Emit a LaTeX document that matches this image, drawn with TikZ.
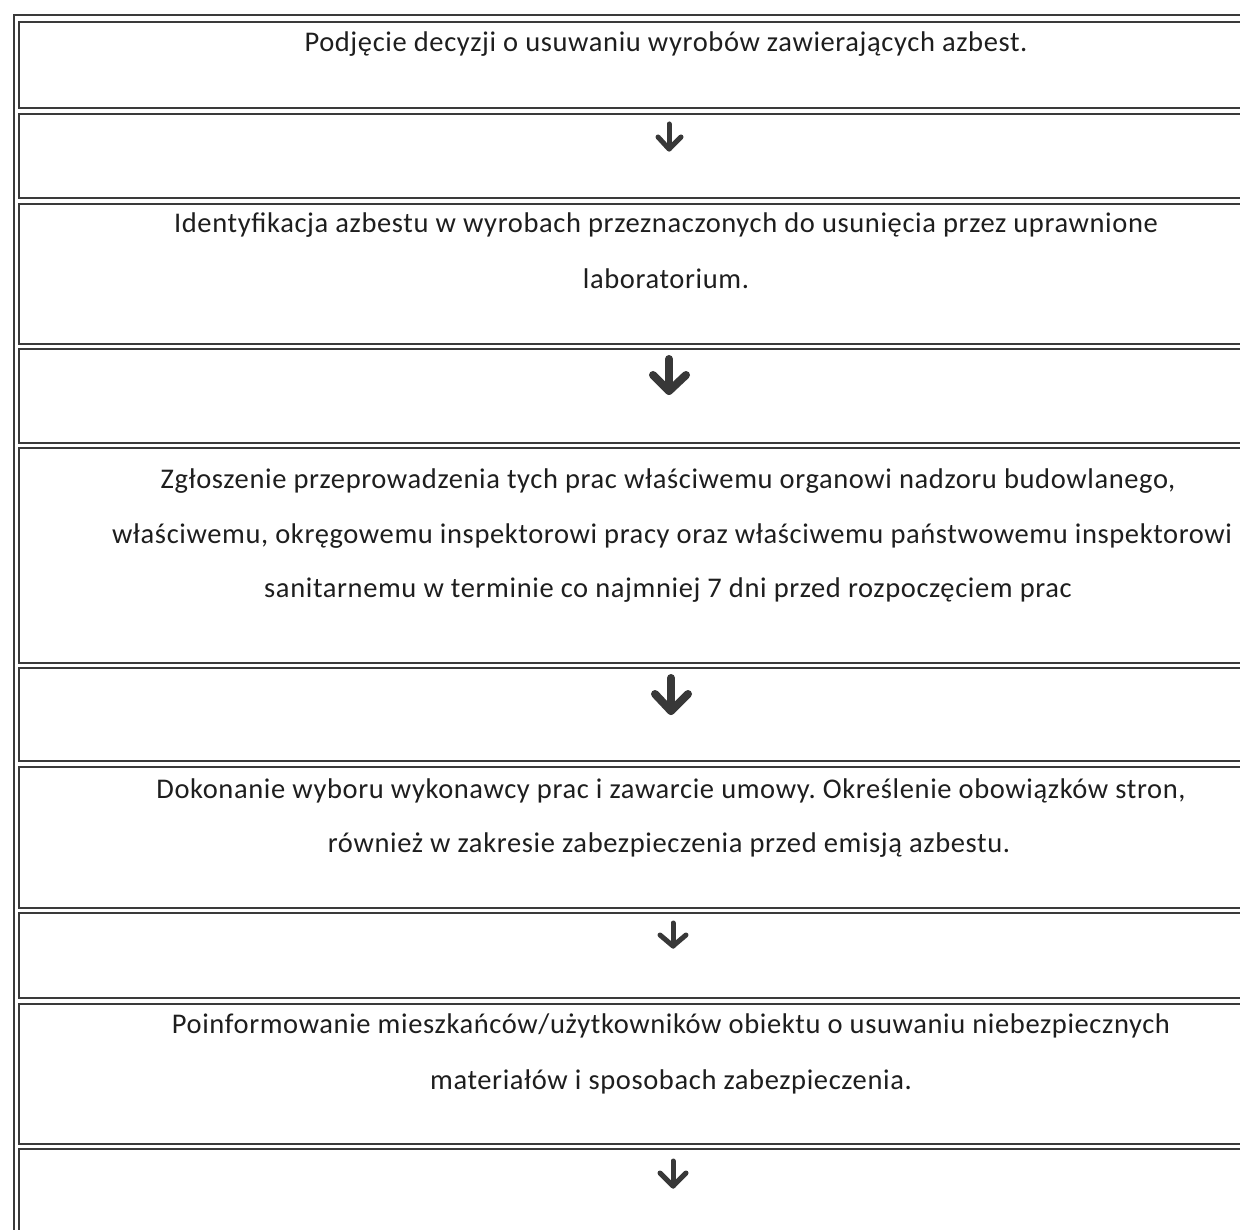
\documentclass[tikz,border=0pt]{standalone}
\usepackage{fontspec}
\setmainfont{Carlito}[LetterSpace=2.2]
\frenchspacing
\begin{document}
\begin{tikzpicture}[x=1pt,y=-1pt,
  cell/.style={draw=rulecol,line width=1.8pt,minimum width=1302pt,inner sep=0pt,anchor=north west},
  txt/.style={anchor=base,text=txtcol,font=\fontsize{28.5}{55}\selectfont,inner sep=0pt},
  arrsmall/.style={draw=arrcol,line width=5pt,line cap=round,line join=round},
  arrbig/.style={draw=arrcol,line width=8pt,line cap=round,line join=round}]
\definecolor{rulecol}{HTML}{3A3A3A}
\definecolor{txtcol}{HTML}{1E1E1E}
\definecolor{arrcol}{HTML}{383838}
\useasboundingbox (0,0) rectangle (1240,1230);
\fill[white] (0,0) rectangle (1240,1230);
% outer frame
\draw[rulecol,line width=1.8pt] (1400,15) -- (14,15) -- (14,1400);
% cells
\node[cell,minimum height=86pt]  (c1)  at (18,21)   {};
\node[cell,minimum height=84pt]  (c2)  at (18,113)  {};
\node[cell,minimum height=140pt] (c3)  at (18,203)  {};
\node[cell,minimum height=94pt]  (c4)  at (18,348)  {};
\node[cell,minimum height=215pt] (c5)  at (18,447)  {};
\node[cell,minimum height=93pt]  (c6)  at (18,667)  {};
\node[cell,minimum height=141pt] (c7)  at (18,766)  {};
\node[cell,minimum height=85pt]  (c8)  at (18,912)  {};
\node[cell,minimum height=140pt] (c9)  at (18,1003) {};
\node[cell,minimum height=150pt] (c10) at (18,1148) {};
% texts
\node[txt] (t1)  at (666,52)   {Podjęcie decyzji o usuwaniu wyrobów zawierających azbest.};
\node[txt] (t3a) at (666,233)  {Identyfikacja azbestu w wyrobach przeznaczonych do usunięcia przez uprawnione};
\node[txt] (t3b) at (666,289)  {laboratorium.};
\node[txt] (t5a) at (668,489)  {Zgłoszenie przeprowadzenia tych prac właściwemu organowi nadzoru budowlanego,};
\node[txt] (t5b) at (672,543)  {właściwemu, okręgowemu inspektorowi pracy oraz właściwemu państwowemu inspektorowi};
\node[txt] (t5c) at (668,597)  {sanitarnemu w terminie co najmniej 7 dni przed rozpoczęciem prac};
\node[txt] (t7a) at (671,798)  {Dokonanie wyboru wykonawcy prac i zawarcie umowy. Określenie obowiązków stron,};
\node[txt] (t7b) at (669,852)  {również w zakresie zabezpieczenia przed emisją azbestu.};
\node[txt] (t9a) at (671,1033) {Poinformowanie mieszkańców/użytkowników obiektu o usuwaniu niebezpiecznych};
\node[txt] (t9b) at (671,1089) {materiałów i sposobach zabezpieczenia.};
% arrow glyphs
\draw[arrsmall] (669,124) -- (669,149);
\draw[arrsmall] (658,137) -- (669,149) -- (681,137);
\draw[arrbig] (669,359) -- (669,391);
\draw[arrbig] (653,375) -- (669,391) -- (686,375);
\draw[arrbig] (671,678) -- (671,711);
\draw[arrbig] (655,694) -- (671,711) -- (688,694);
\draw[arrsmall] (673,923) -- (673,946);
\draw[arrsmall] (660,935) -- (673,946) -- (686,935);
\draw[arrsmall] (673,1161) -- (673,1186);
\draw[arrsmall] (660,1173) -- (673,1186) -- (686,1173);
\end{tikzpicture}
\end{document}
